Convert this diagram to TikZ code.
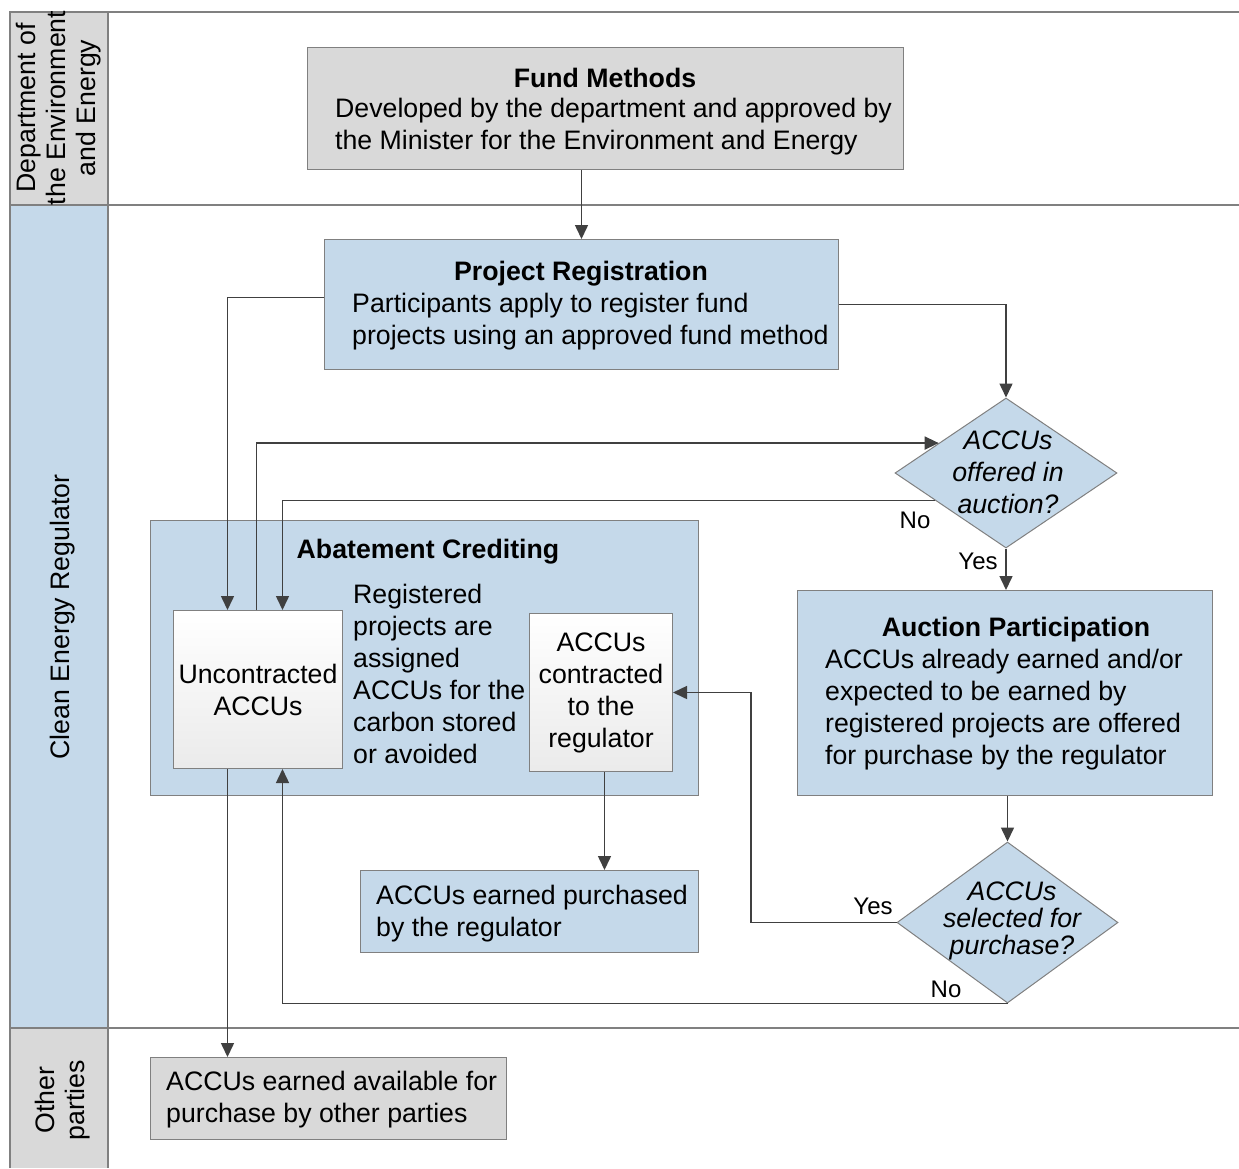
\documentclass[tikz,border=0pt]{standalone}
\usepackage{fontspec}
\setmainfont{Liberation Sans}
\usetikzlibrary{arrows.meta,shapes.geometric}
\definecolor{lblue}{RGB}{197,217,234}
\definecolor{lgray}{RGB}{217,217,217}
\definecolor{edgec}{RGB}{128,128,128}
\definecolor{arrc}{RGB}{64,64,64}
\begin{document}
\begin{tikzpicture}[x=1pt,y=-1pt,
  every node/.style={font=\fontsize{26.7}{32}\selectfont, inner sep=0pt},
  box/.style={draw=edgec, line width=1pt, rectangle, anchor=north west},
  bluebox/.style={box, fill=lblue},
  graybox/.style={box, fill=lgray},
  whitebox/.style={box, top color=white, bottom color=black!8},
  decision/.style={diamond, draw=edgec, fill=lblue, line width=1pt, inner sep=0pt, minimum width=222pt, minimum height=150pt},
  ttl/.style={font=\fontsize{26.7}{32}\selectfont\bfseries},
  body/.style={anchor=west, align=left},
  dtext/.style={align=center, font=\fontsize{26.7}{32}\selectfont\itshape},
  lbl/.style={font=\fontsize{24}{28}\selectfont},
  lane/.style={rotate=90, align=center, font=\fontsize{26.7}{30}\selectfont},
  arr/.style={draw=arrc, line width=1.5pt, -{Triangle[length=14pt,width=13pt]}},
  frame/.style={draw=edgec, line width=1.5pt}
]
\useasboundingbox (0,0) rectangle (1239,1168);
\fill[white] (0,0) rectangle (1239,1168);
% lane headers
\fill[lgray] (10,12) rectangle (108,205);
\fill[lblue] (10,205) rectangle (108,1028);
\fill[lgray] (10,1028) rectangle (108,1168);
\draw[frame] (10,1168) -- (10,12) -- (1239,12);
\draw[frame] (108,12) -- (108,1168);
\draw[frame] (10,205) -- (1239,205);
\draw[frame] (10,1028) -- (1239,1028);
\node[lane] (lane1) at (59,108) {Department of\\the Environment\\and Energy};
\node[lane] (lane2) at (63,617) {Clean Energy Regulator};
\node[lane] (lane3) at (63,1100) {Other\\parties};

% boxes
\node[graybox, minimum width=596pt, minimum height=122pt] (fm) at (307,47) {};
\node[ttl] (fmt) at (605,78) {Fund Methods};
\node[body] (fmb) at (335,127) {Developed by the department and approved by\\the Minister for the Environment and Energy};

\node[bluebox, minimum width=514pt, minimum height=130pt] (pr) at (324,239) {};
\node[ttl] (prt) at (581,274) {Project Registration};
\node[body] (prb) at (352,322) {Participants apply to register fund\\projects using an approved fund method};

\node[bluebox, minimum width=548pt, minimum height=275pt] (ac) at (150,520) {};
\node[ttl] (act) at (428,552) {Abatement Crediting};
\node[body] (acb) at (353,674) {Registered\\projects are\\assigned\\ACCUs for the\\carbon stored\\or avoided};

\node[whitebox, minimum width=169pt, minimum height=158pt] (unc) at (173,610) {};
\node[align=center] (unct) at (unc) {Uncontracted\\ACCUs};
\node[whitebox, minimum width=143pt, minimum height=158pt] (con) at (529,613) {};
\node[align=center] (cont) at (con) {ACCUs\\contracted\\to the\\regulator};

\node[bluebox, minimum width=415pt, minimum height=205pt] (au) at (797,590) {};
\node[ttl] (aut) at (1016,630) {Auction Participation};
\node[body] (aub) at (825,710) {ACCUs already earned and/or\\expected to be earned by\\registered projects are offered\\for purchase by the regulator};

\node[bluebox, minimum width=338pt, minimum height=82pt] (pur) at (360,870) {};
\node[body] (purt) at (376,914) {ACCUs earned purchased\\by the regulator};

\node[graybox, minimum width=356pt, minimum height=82pt] (avl) at (150,1057) {};
\node[body] (avlt) at (166,1100) {ACCUs earned available for\\purchase by other parties};

\node[decision] (d1) at (1006,473) {};
\node[dtext] (d1t) at (1008,472) {ACCUs\\offered in\\auction?};
\node[decision, minimum width=221pt, minimum height=161pt] (d2) at (1007.5,922.5) {};
\node[dtext, font=\fontsize{26.7}{27}\selectfont\itshape] (d2t) at (1012,921) {ACCUs\\selected for\\purchase?};

% connectors
\draw[arr] (pr.north |- fm.south) -- (pr.north);
\draw[arr] ([yshift=7pt]pr.west) -| ([xshift=-30.5pt]unc.north);
\draw[arr] (pr.east) -| (d1.north);
\draw[arr] ([xshift=-1.5pt]unc.north) |- (d1.156);
\draw[arr] (d1.201) -| ([xshift=24.5pt]unc.north);
\draw[arr] (d1.south) -- (d1.south |- au.north);
\draw[arr] (au.south -| d2.north) -- (d2.north);
\draw[arr] (d2.west) -| ([xshift=78pt]con.east) -- (con.east);
\draw[arr] (d2.south) -| ([xshift=24.5pt]unc.south);
\draw[arr] ([xshift=3.5pt]con.south) -- ([xshift=3.5pt]con.south |- pur.north);
\draw[arr] ([xshift=-30.5pt]unc.south) -- ([xshift=-30.5pt]unc.south |- avl.north);

\node[lbl] (no1) at (915,520) {No};
\node[lbl] (yes1) at (978,561) {Yes};
\node[lbl] (yes2) at (873,906) {Yes};
\node[lbl] (no2) at (946,989) {No};
\end{tikzpicture}
\end{document}
